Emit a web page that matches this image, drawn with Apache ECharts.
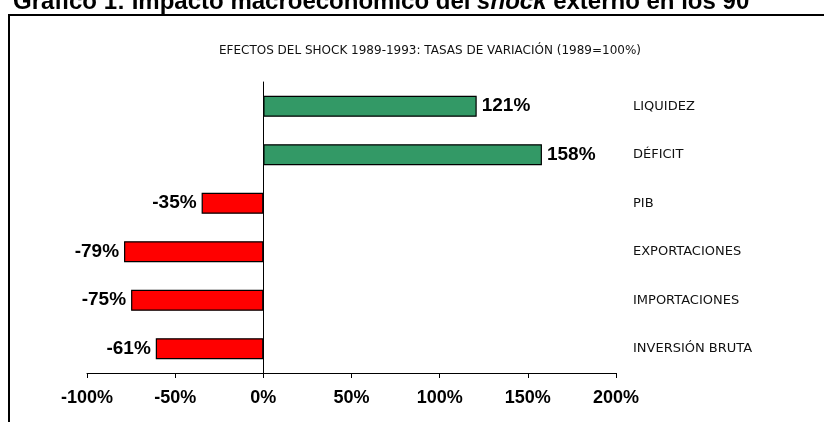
<!DOCTYPE html>
<html>
<head>
<meta charset="utf-8">
<script src="https://cdn.jsdelivr.net/npm/echarts@6/dist/echarts.min.js"></script>
<style>
  html, body { margin: 0; padding: 0; background: #fff; }
  #chart { width: 824px; height: 422px; }
</style>
</head>
<body>
<div id="chart"></div>
<script>
// datos
var categories = ['LIQUIDEZ', 'DÉFICIT', 'PIB', 'EXPORTACIONES', 'IMPORTACIONES', 'INVERSIÓN BRUTA'];
var values = [121, 158, -35, -79, -75, -61];
var axisTicks = [-100, -50, 0, 50, 100, 150, 200];

var myChart = echarts.init(document.getElementById('chart'));

var barData = [];
for (var i = 0; i < values.length; i++) {
  var v = values[i];
  barData.push({
    value: v,
    itemStyle: { color: v >= 0 ? '#339966' : '#ff0000' },
    label: { position: v >= 0 ? 'right' : 'left' }
  });
}

var option = {
  animation: false,
  backgroundColor: '#fff',
  graphic: [
    {
      // marco del grafico (lado derecho y abajo fuera de la imagen)
      type: 'rect',
      shape: { x: 9, y: 15, width: 830, height: 420 },
      style: { fill: 'none', stroke: '#000', lineWidth: 2 }
    },
    {
      type: 'text',
      left: 13,
      top: -10,
      style: {
        text: '{b|Gráfico 1: Impacto macroeconómico del }{i|shock}{b| externo en los 90}',
        rich: {
          b: { fontFamily: 'Arial, Liberation Sans', fontWeight: 'bold', fontSize: 24, fill: '#000' },
          i: { fontFamily: 'Arial, Liberation Sans', fontWeight: 'bold', fontStyle: 'italic', fontSize: 24, fill: '#000' }
        }
      }
    }
  ],
  title: {
    text: 'EFECTOS DEL SHOCK 1989-1993: TASAS DE VARIACIÓN (1989=100%)',
    left: 425,
    textAlign: 'center',
    top: 40,
    textStyle: { fontFamily: 'DejaVu Sans', fontWeight: 'normal', fontSize: 12, color: '#111' }
  },
  grid: { left: 87, right: 208, top: 82, bottom: 49 },
  xAxis: {
    type: 'value',
    min: axisTicks[0],
    max: axisTicks[axisTicks.length - 1],
    interval: 50,
    axisLine: { show: true, lineStyle: { color: '#000', width: 1 } },
    axisTick: { show: true, length: 5, lineStyle: { color: '#000' } },
    splitLine: { show: false },
    axisLabel: {
      formatter: '{value}%',
      margin: 16,
      color: '#000',
      fontFamily: 'Arial, Liberation Sans',
      fontWeight: 'bold',
      fontSize: 18
    }
  },
  yAxis: [
    {
      type: 'category',
      inverse: true,
      data: categories,
      axisLine: { show: true, onZero: true, lineStyle: { color: '#000', width: 1 } },
      axisTick: { show: false },
      axisLabel: { show: false }
    },
    {
      type: 'category',
      inverse: true,
      position: 'right',
      data: categories,
      axisLine: { show: false },
      axisTick: { show: false },
      axisLabel: {
        margin: 17,
        align: 'left',
        color: '#111',
        fontFamily: 'DejaVu Sans',
        fontSize: 13
      }
    }
  ],
  series: [
    {
      type: 'bar',
      data: barData,
      barWidth: 21,
      itemStyle: { borderColor: '#000', borderWidth: 1.2 },
      label: {
        show: true,
        distance: 5,
        formatter: '{c}%',
        color: '#000',
        fontFamily: 'Arial, Liberation Sans',
        fontWeight: 'bold',
        fontSize: 19
      }
    }
  ]
};

myChart.setOption(option);
</script>
</body>
</html>
